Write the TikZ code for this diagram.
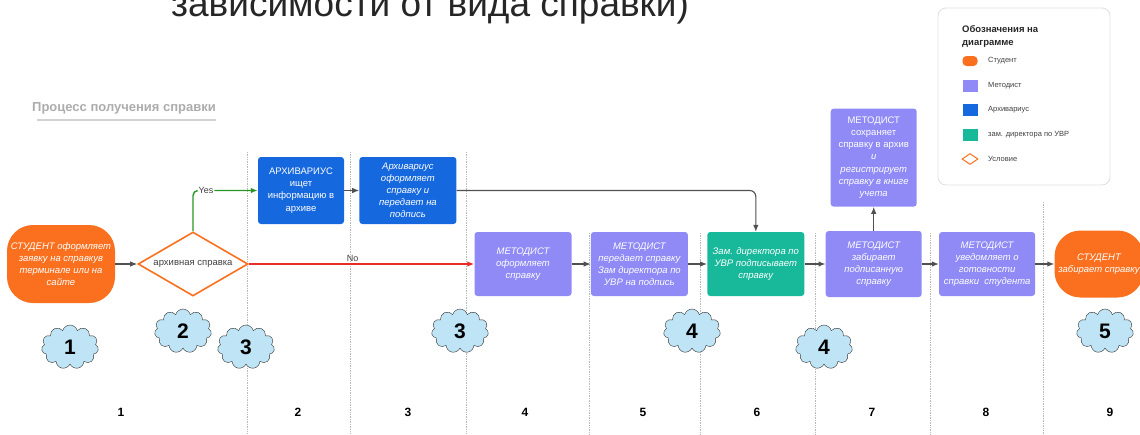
\documentclass[tikz,border=0pt]{standalone}
\usepackage{fontspec}
\setmainfont{Liberation Sans}
\setsansfont{Liberation Sans}
\usetikzlibrary{arrows.meta,positioning,calc,shapes.geometric,shapes.symbols}

\definecolor{studorange}{RGB}{250,112,30}
\definecolor{metpurple}{RGB}{143,138,245}
\definecolor{archblue}{RGB}{22,104,222}
\definecolor{zamteal}{RGB}{24,184,154}
\definecolor{cloudblue}{RGB}{190,228,245}
\definecolor{arrowgray}{RGB}{80,80,80}
\definecolor{yesgreen}{RGB}{40,150,40}
\definecolor{nored}{RGB}{232,45,40}

\begin{document}
\begin{tikzpicture}[
  x=1pt, y=-1pt,
  >=Latex,
  font=\sffamily,
  flow/.style={-{Latex[length=7pt,width=5.5pt]}, line width=1.1pt, arrowgray},
  yesflow/.style={flow, yesgreen, line width=1.4pt, rounded corners=5pt},
  noflow/.style={flow, nored, line width=1.4pt},
  box/.style={
    rounded corners=3pt, align=center, text=white, inner sep=1pt,
    font=\sffamily\itshape\fontsize{9.5}{12}\selectfont
  },
  metbox/.style={box, fill=metpurple, minimum width=97pt, minimum height=64pt},
  archbox/.style={box, fill=archblue, minimum height=67pt},
  studbox/.style={box, fill=studorange, rounded corners=26pt},
  condshape/.style={
    diamond, aspect=1.72, draw=studorange, line width=1.6pt, fill=white,
    minimum width=110pt, minimum height=64pt, inner sep=0pt, text=black!75,
    font=\sffamily\fontsize{9.5}{12}\selectfont
  },
  cloudmark/.style={
    cloud, cloud puffs=11, draw=black!80, thin, fill=cloudblue,
    minimum width=57pt, minimum height=44pt, inner sep=0pt,
    font=\sffamily\bfseries\fontsize{21}{21}\selectfont
  },
  lane/.style={gray!55, line width=0.7pt, densely dotted},
  lanenum/.style={font=\sffamily\bfseries\fontsize{12}{12}\selectfont},
  edgelabel/.style={text=black!75, inner sep=1pt, font=\sffamily\fontsize{9}{10}\selectfont},
  swatch/.style={minimum width=15pt, minimum height=12pt, inner sep=0pt},
  legtext/.style={inner sep=0pt, text=black!75, font=\sffamily\fontsize{7.5}{9}\selectfont}
]
\useasboundingbox (0,0) rectangle (1140,434);
\clip (0,0) rectangle (1140,434);

% Heading (cut off at the top) and subtitle
\node[anchor=base west, inner sep=0pt, text=black!85,
  font=\sffamily\fontsize{37}{37}\selectfont] (head) at (171,16) {зависимости от вида справки)};
\node[anchor=west, inner sep=0pt, text=gray!65,
  font=\sffamily\bfseries\fontsize{13}{13}\selectfont] (ttl) at (32,108) {Процесс получения справки};
\draw[gray!35, line width=1.6pt] ($(ttl.south west)+(5,6)$) -- ($(ttl.south east)+(0,6)$);

% Lane separators
\foreach \x/\ys in {247/152, 350/152, 466/152, 589/233, 700/233, 815/233, 930/233, 1043/202}
  \draw[lane] (\x,\ys) -- (\x,434);

% Start and decision
\node[studbox, minimum width=108pt, minimum height=78pt] (s1) at (61,264)
  {СТУДЕНТ оформляет\\заявку на справкув\\терминале или на\\сайте};
\node[condshape] (cond) at (193,264) {архивная справка};

% Archive branch
\node[archbox, minimum width=86pt, font=\sffamily\fontsize{9.5}{12.3}\selectfont] (a1) at (301,190.5)
  {АРХИВАРИУС\\ищет\\информацию в\\архиве};
\node[archbox, minimum width=97pt, right=15pt of a1] (a2)
  {Архивариус\\оформляет\\справку и\\передает на\\подпись};

% Main row
\node[metbox] (m1) at (523,264) {МЕТОДИСТ\\оформляет\\справку};
\node[metbox, right=19pt of m1] (m2) {МЕТОДИСТ\\передает справку\\Зам директора по\\УВР на подпись};
\node[metbox, fill=zamteal, right=19pt of m2] (z) {Зам. директора по\\УВР подписывает\\справку};
\node[metbox, minimum width=96pt, minimum height=66pt, right=21pt of z] (m3)
  {МЕТОДИСТ\\забирает\\подписанную\\справку};
\node[metbox, minimum width=86pt, minimum height=98pt, above=24pt of m3,
  font=\sffamily\fontsize{9.5}{12.2}\selectfont] (m4)
  {МЕТОДИСТ\\сохраняет\\справку в архив\\\itshape и\\\itshape регистрирует\\\itshape справку в книге\\\itshape учета};
\node[metbox, minimum width=96pt, right=17pt of m3] (m5)
  {МЕТОДИСТ\\уведомляет о\\готовности\\справки\ \ студента};
\node[studbox, minimum width=89pt, minimum height=67pt, right=19pt of m5] (s2)
  {СТУДЕНТ\\забирает справку};

% Connectors
\draw[flow] (s1) -- (cond);
\draw[yesflow] (cond.north) |- node[edgelabel, pos=0.6, fill=white] {Yes} (a1.west);
\draw[noflow] (cond.east) -- node[edgelabel, pos=0.46, above=1pt] {No} (m1.west);
\draw[flow] (a1) -- (a2);
\draw[flow, rounded corners=6pt] (a2.east) -| (z.north);
\draw[flow] (m1) -- (m2);
\draw[flow] (m2) -- (z);
\draw[flow] (z) -- (m3);
\draw[flow] (m3) -- (m4);
\draw[flow] (m3) -- (m5);
\draw[flow] (m5) -- (s2);

% Step clouds
\foreach \cx/\cy/\n [count=\i] in {70/347/1, 183/331/2, 246/347/3, 460/331/3, 692/331/4, 824/347/4, 1105/331/5}
  \node[cloudmark] (c\i) at (\cx,\cy) {\n};

% Lane numbers
\foreach \x/\n in {121/1, 298/2, 408/3, 525/4, 643/5, 757/6, 872/7, 986/8, 1110/9}
  \node[lanenum] (n\n) at (\x,412) {\n};

% Legend
\node[draw=gray!25, line width=0.8pt, rounded corners=8pt, minimum width=172pt, minimum height=177pt] (leg) at (1024,96.5) {};
\node[anchor=north west, align=left, inner sep=0pt, text=black!85,
  font=\sffamily\bfseries\fontsize{9.5}{13}\selectfont] (legtitle) at (962,25) {Обозначения на\\диаграмме};
\node[swatch, fill=studorange, minimum height=10pt, rounded corners=4pt] (lg1) at (970,61) {};
\node[swatch, fill=metpurple] (lg2) at (970,85.5) {};
\node[swatch, fill=archblue] (lg3) at (970,110) {};
\node[swatch, fill=zamteal] (lg4) at (970,135) {};
\node[diamond, aspect=1.5, draw=studorange, line width=1pt, minimum width=16pt, minimum height=11pt, inner sep=0pt] (lg5) at (970,159) {};
\node[legtext, anchor=west] (lt1) at (988,61) {Студент};
\node[legtext, anchor=west] (lt2) at (988,85.5) {Методист};
\node[legtext, anchor=west] (lt3) at (988,110) {Архивариус};
\node[legtext, anchor=west] (lt4) at (988,135) {зам. директора по УВР};
\node[legtext, anchor=west] (lt5) at (988,159) {Условие};

\end{tikzpicture}
\end{document}
